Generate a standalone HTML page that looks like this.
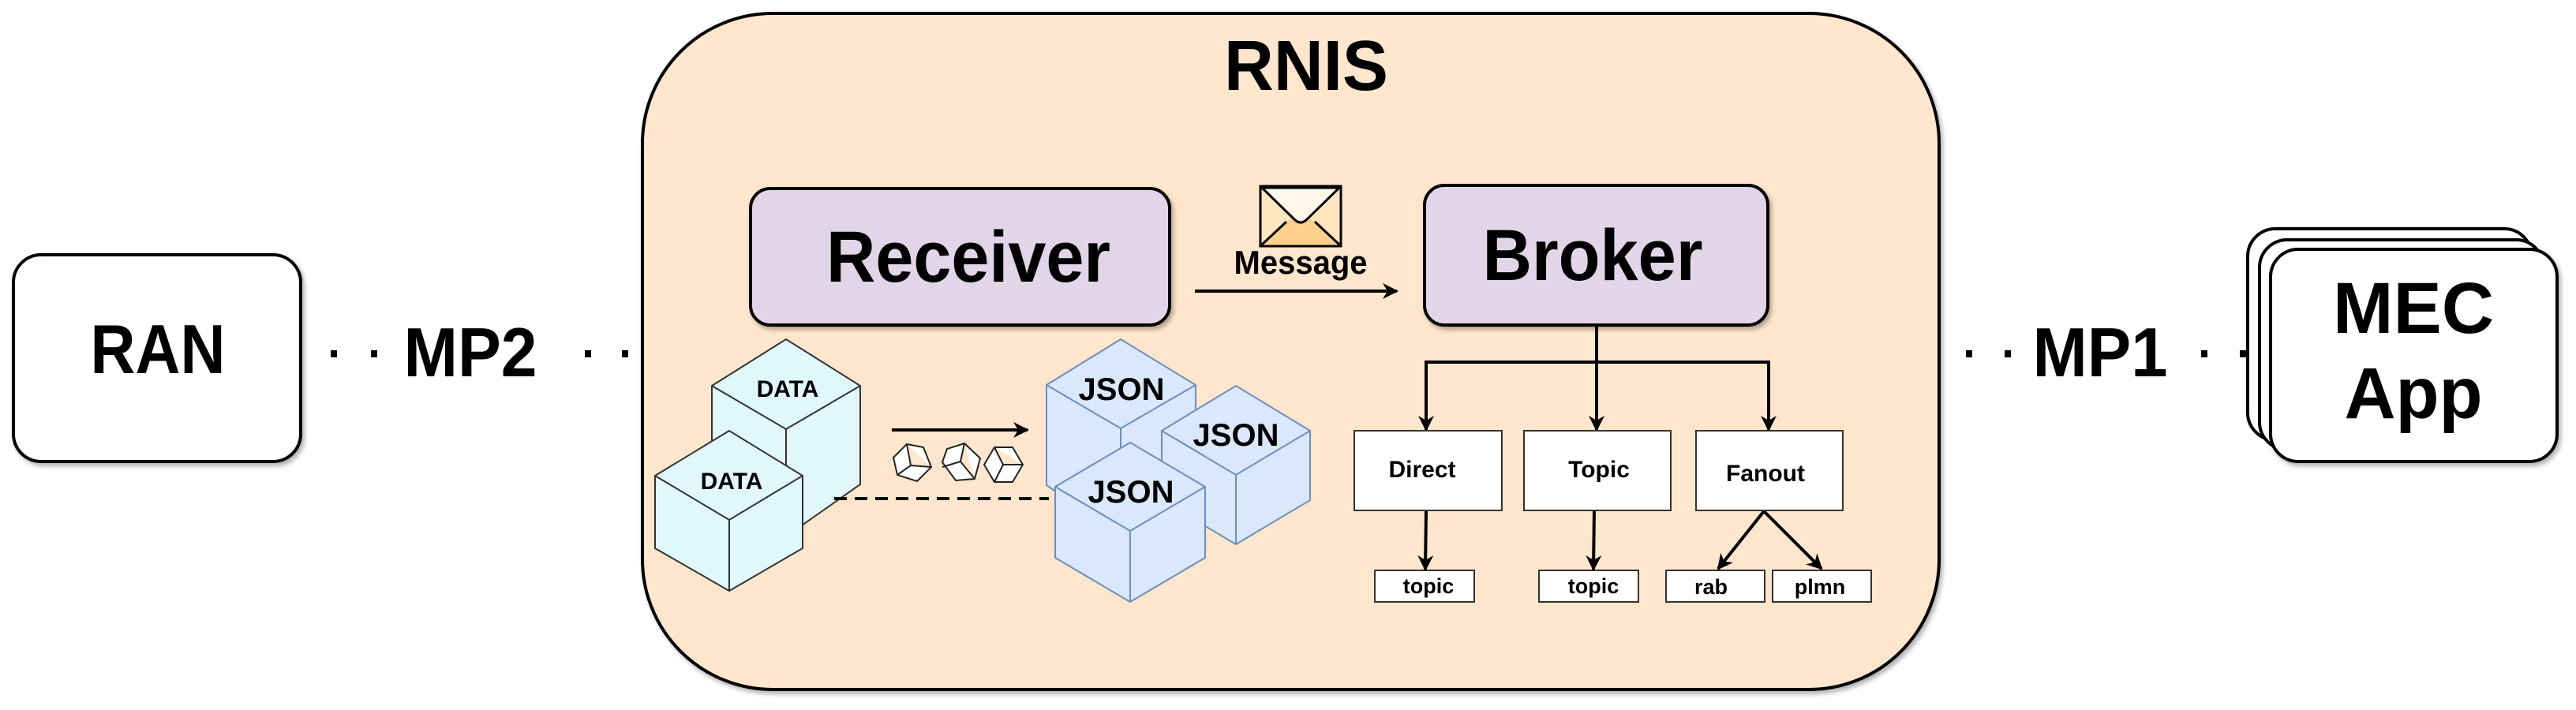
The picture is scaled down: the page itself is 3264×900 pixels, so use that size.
<!DOCTYPE html>
<html><head><meta charset="utf-8"><style>
html,body{margin:0;padding:0;background:#fff;}
svg{display:block;}
text{font-family:"Liberation Sans",sans-serif;font-weight:bold;fill:#000;}
</style></head><body>
<svg width="3264" height="900" viewBox="0 0 3264 900" xmlns="http://www.w3.org/2000/svg">
<defs>
<marker id="ah" viewBox="0 0 10 10" refX="9" refY="5" markerWidth="5" markerHeight="5" orient="auto" markerUnits="strokeWidth">
<path d="M0,0 L10,5 L0,10 L3,5 z" fill="#000"/></marker>
<filter id="sh" x="-5%" y="-5%" width="110%" height="115%"><feDropShadow dx="3" dy="4" stdDeviation="3" flood-color="#000" flood-opacity="0.3"/></filter>
</defs>
<!-- RAN -->
<rect x="17" y="323" width="364" height="262" rx="35" fill="#fff" stroke="#000" stroke-width="4" filter="url(#sh)"/>
<text x="200" y="473" font-size="88" text-anchor="middle" textLength="171" lengthAdjust="spacingAndGlyphs">RAN</text>
<!-- MP2 -->
<rect x="419" y="444" width="8" height="9"/><rect x="470" y="444" width="8" height="9"/>
<rect x="741" y="444" width="8" height="9"/><rect x="788" y="444" width="8" height="9"/>
<text x="596" y="477" font-size="88" text-anchor="middle" textLength="169" lengthAdjust="spacingAndGlyphs">MP2</text>
<!-- RNIS -->
<rect x="814" y="17" width="1643" height="857" rx="165" fill="#ffe6cc" stroke="#000" stroke-width="4" filter="url(#sh)"/>
<text x="1655" y="114" font-size="90" text-anchor="middle" textLength="208" lengthAdjust="spacingAndGlyphs">RNIS</text>
<!-- Receiver -->
<rect x="951" y="239" width="531" height="173" rx="25" fill="#e1d5e7" stroke="#000" stroke-width="4" filter="url(#sh)"/>
<text x="1227" y="357" font-size="92" text-anchor="middle" textLength="360" lengthAdjust="spacingAndGlyphs">Receiver</text>
<!-- Broker -->
<rect x="1805" y="235" width="435" height="177" rx="25" fill="#e1d5e7" stroke="#000" stroke-width="4" filter="url(#sh)"/>
<text x="2018" y="355" font-size="92" text-anchor="middle" textLength="279" lengthAdjust="spacingAndGlyphs">Broker</text>
<!-- Envelope -->
<rect x="1597" y="236" width="102" height="76" fill="#ffe6c0" stroke="#000" stroke-width="3"/>
<path d="M1599,310 L1630,282 Q1648,265 1666,282 L1697,310 Z" fill="#fdd18a"/>
<path d="M1599,238 L1640,278 Q1648,286 1656,278 L1697,238 Z" fill="#fff8ea" stroke="#000" stroke-width="3"/>
<path d="M1599,310 L1630,281 M1697,310 L1666,281" stroke="#000" stroke-width="3"/>
<rect x="1597" y="236" width="102" height="76" fill="none" stroke="#000" stroke-width="3"/>
<text x="1648" y="347" font-size="42" text-anchor="middle" textLength="169" lengthAdjust="spacingAndGlyphs">Message</text>
<line x1="1514" y1="369" x2="1770" y2="369" stroke="#000" stroke-width="4" marker-end="url(#ah)"/>
<!-- Broker tree -->
<g stroke="#000" stroke-width="4" fill="none">
<line x1="2023" y1="412" x2="2023" y2="459"/>
<polyline points="1807,545 1807,459 2241,459 2241,545" marker-end="url(#ah)"/>
<line x1="1807" y1="459" x2="1807" y2="545" marker-end="url(#ah)"/>
<line x1="2023" y1="459" x2="2023" y2="545" marker-end="url(#ah)"/>
<line x1="1807" y1="647" x2="1806" y2="722" marker-end="url(#ah)"/>
<line x1="2020" y1="647" x2="2019" y2="722" marker-end="url(#ah)"/>
<line x1="2235" y1="648" x2="2177" y2="721" marker-end="url(#ah)"/>
<line x1="2235" y1="648" x2="2308" y2="721" marker-end="url(#ah)"/>
</g>
<g fill="#fff" stroke="#333" stroke-width="2">
<rect x="1716" y="546" width="187" height="101"/>
<rect x="1931" y="546" width="186" height="101"/>
<rect x="2149" y="546" width="186" height="101"/>
<rect x="1742" y="723" width="126" height="40"/>
<rect x="1950" y="723" width="126" height="40"/>
<rect x="2111" y="723" width="125" height="40"/>
<rect x="2246" y="723" width="125" height="40"/>
</g>
<text x="1802" y="605" font-size="30" text-anchor="middle">Direct</text>
<text x="2026" y="605" font-size="30" text-anchor="middle">Topic</text>
<text x="2237" y="610" font-size="30" text-anchor="middle">Fanout</text>
<text x="1810" y="752" font-size="27" text-anchor="middle">topic</text>
<text x="2019" y="752" font-size="27" text-anchor="middle">topic</text>
<text x="2168" y="753" font-size="27" text-anchor="middle">rab</text>
<text x="2306" y="753" font-size="27" text-anchor="middle">plmn</text>
<!-- DATA cubes -->
<g stroke="#333" stroke-width="2" fill="#e0f7fb">
<path d="M902,489 L996,430 L1090,489 L1090,614 L996,680 L902,614 Z"/>
<path d="M902,489 L996,544 L1090,489 M996,544 L996,680" fill="none"/>
<path d="M830,603 L924,546 L1017,603 L1017,695 L924,749 L830,695 Z"/>
<path d="M830,603 L924,659 L1017,603 M924,659 L924,749" fill="none"/>
</g>
<text x="998" y="503" font-size="30" text-anchor="middle">DATA</text>
<text x="927" y="620" font-size="30" text-anchor="middle">DATA</text>
<!-- arrow and small cubes -->
<line x1="1130" y1="545" x2="1302" y2="545" stroke="#000" stroke-width="4" marker-end="url(#ah)"/>
<g fill="#fff" stroke="#222" stroke-width="2">
<path d="M1132,580 L1149,563 L1170,567 L1180,592 L1162,610 L1137,602 Z M1149,563 L1154,590 L1180,592 M1154,590 L1137,602"/>
<path d="M1194,586 L1200,569 L1222,562 L1242,581 L1235,607 L1211,609 Z M1222,562 L1217,585 L1235,607 M1217,585 L1194,592"/>
<path d="M1247,589 L1260,567 L1283,567 L1296,589 L1283,611 L1260,611 Z M1260,567 L1271,589 L1296,589 M1271,589 L1260,611"/>
</g>
<line x1="1057" y1="632" x2="1329" y2="632" stroke="#000" stroke-width="4" stroke-dasharray="16,10"/>
<!-- JSON cubes -->
<g stroke="#6c8ebf" stroke-width="2" fill="#dae8fc">
<path d="M1326,488 L1420,430 L1515,488 L1515,615 L1420,680 L1326,615 Z"/>
<path d="M1326,488 L1420,543 L1515,488 M1420,543 L1420,680" fill="none"/>
<path d="M1472,546 L1566,489 L1660,546 L1660,634 L1566,690 L1472,634 Z"/>
<path d="M1472,546 L1566,602 L1660,546 M1566,602 L1566,690" fill="none"/>
<path d="M1337,617 L1432,561 L1527,617 L1527,707 L1432,763 L1337,707 Z"/>
<path d="M1337,617 L1432,673 L1527,617 M1432,673 L1432,763" fill="none"/>
</g>
<text x="1421" y="507" font-size="40" text-anchor="middle">JSON</text>
<text x="1566" y="565" font-size="40" text-anchor="middle">JSON</text>
<text x="1433" y="637" font-size="40" text-anchor="middle">JSON</text>
<!-- MP1 -->
<rect x="2491" y="444" width="8" height="9"/><rect x="2540" y="444" width="8" height="9"/>
<rect x="2789" y="444" width="8" height="9"/><rect x="2838" y="444" width="8" height="9"/>
<text x="2661" y="477" font-size="88" text-anchor="middle" textLength="171" lengthAdjust="spacingAndGlyphs">MP1</text>
<!-- MEC App -->
<rect x="2848" y="290" width="360" height="268" rx="35" fill="#fff" stroke="#000" stroke-width="4"/>
<rect x="2863" y="304" width="360" height="266" rx="35" fill="#fff" stroke="#000" stroke-width="4"/>
<rect x="2877" y="316" width="363" height="269" rx="35" fill="#fff" stroke="#000" stroke-width="4" filter="url(#sh)"/>
<text x="3058" y="422" font-size="92" text-anchor="middle" textLength="204" lengthAdjust="spacingAndGlyphs">MEC</text>
<text x="3058" y="530" font-size="92" text-anchor="middle" textLength="175" lengthAdjust="spacingAndGlyphs">App</text>
</svg>
</body></html>
